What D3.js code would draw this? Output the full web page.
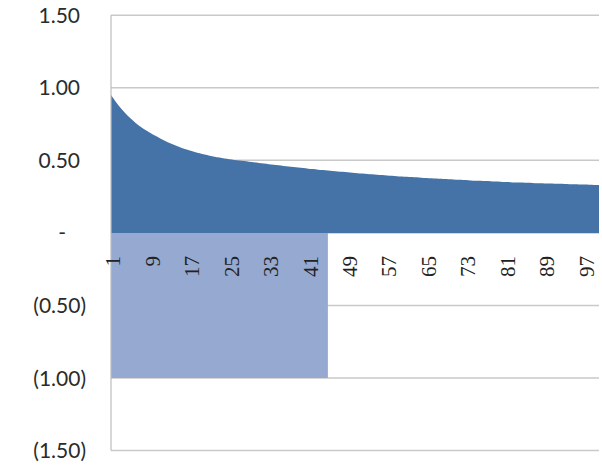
<!DOCTYPE html>
<html>
<head>
<meta charset="utf-8">
<script src="https://cdn.jsdelivr.net/npm/d3@7"></script>
<style>
  html, body { margin: 0; padding: 0; background: #fff; }
  svg { display: block; }
</style>
</head>
<body>
<svg id="chart" width="602" height="466"></svg>
<script>
// Categories 1..100
const categories = d3.range(1, 101);

// Upper series: decaying curve
const seriesA = [
  0.950, 0.902, 0.860, 0.822, 0.788, 0.758, 0.732, 0.709, 0.688, 0.669,
  0.651, 0.634, 0.618, 0.604, 0.591, 0.579, 0.568, 0.558, 0.549, 0.540,
  0.532, 0.525, 0.519, 0.513, 0.508, 0.503, 0.499, 0.495, 0.491, 0.487,
  0.482, 0.478, 0.474, 0.470, 0.466, 0.462, 0.458, 0.454, 0.450, 0.447,
  0.443, 0.440, 0.436, 0.433, 0.430, 0.427, 0.424, 0.421, 0.418, 0.415,
  0.412, 0.409, 0.406, 0.404, 0.401, 0.399, 0.396, 0.394, 0.391, 0.389,
  0.387, 0.385, 0.383, 0.381, 0.379, 0.377, 0.375, 0.373, 0.371, 0.369,
  0.367, 0.366, 0.364, 0.362, 0.360, 0.359, 0.357, 0.356, 0.354, 0.353,
  0.351, 0.350, 0.348, 0.347, 0.346, 0.345, 0.343, 0.342, 0.341, 0.340,
  0.339, 0.338, 0.337, 0.336, 0.335, 0.334, 0.333, 0.332, 0.331, 0.330
];

// Lower series: -1 over the first 45 categories, empty afterwards
const seriesB = categories.map(c => (c <= 45 ? -1 : null));

// Axis ticks
const yTicks = [1.5, 1.0, 0.5, 0, -0.5, -1.0, -1.5];
const yTickLabels = ["1.50", "1.00", "0.50", "-", "(0.50)", "(1.00)", "(1.50)"];
const xTickCats = d3.range(1, 101, 8);

const svg = d3.select("#chart");
const plotLeft = 111, plotRight = 599, plotTop = 15.3, plotBottom = 450.5;

const x = d3.scalePoint().domain(categories).range([plotLeft, plotRight]);
const y = d3.scaleLinear().domain([-1.5, 1.5]).range([plotBottom, plotTop]);

// Gridlines
svg.append("g")
  .selectAll("line")
  .data(yTicks)
  .join("line")
  .attr("x1", plotLeft).attr("x2", plotRight)
  .attr("y1", d => y(d)).attr("y2", d => y(d))
  .attr("stroke", "#c9c9c9")
  .attr("stroke-width", 1.5);

// Lower (light) area
const areaB = d3.area()
  .defined((d, i) => seriesB[i] !== null)
  .x((d, i) => x(categories[i]))
  .y0(y(0))
  .y1((d, i) => y(seriesB[i]));
svg.append("path")
  .datum(seriesB)
  .attr("d", areaB)
  .attr("fill", "#95a9d1");

// Upper (dark) area
const areaA = d3.area()
  .curve(d3.curveMonotoneX)
  .x((d, i) => x(categories[i]))
  .y0(y(0))
  .y1(d => y(d));
svg.append("path")
  .datum(seriesA)
  .attr("d", areaA)
  .attr("fill", "#4572a7");

// Vertical axis line
svg.append("line")
  .attr("x1", plotLeft).attr("x2", plotLeft)
  .attr("y1", plotTop).attr("y2", plotBottom)
  .attr("stroke", "#bdbdbd")
  .attr("stroke-width", 1.2);

// Value axis labels (accounting style)
const yLab = svg.append("g")
  .attr("font-family", "Lato, 'Open Sans', sans-serif")
  .attr("font-size", 21)
  .attr("fill", "#2b2b2b");
yLab.selectAll("text")
  .data(yTicks)
  .join("text")
  .attr("x", d => d < 0 ? 86 : (d === 0 ? 66 : 80))
  .attr("y", d => y(d))
  .attr("dy", "0.36em")
  .attr("text-anchor", "end")
  .text((d, i) => yTickLabels[i]);

// Category labels, rotated
const xLab = svg.append("g")
  .attr("font-family", "'Liberation Serif', 'DejaVu Serif', serif")
  .attr("font-size", 21)
  .attr("fill", "#222");
xLab.selectAll("text")
  .data(xTickCats)
  .join("text")
  .attr("transform", d => `translate(${x(d) + 2},${y(0) + 23}) rotate(-90)`)
  .attr("text-anchor", "end")
  .attr("dy", "0.35em")
  .text(d => d);
</script>
</body>
</html>
